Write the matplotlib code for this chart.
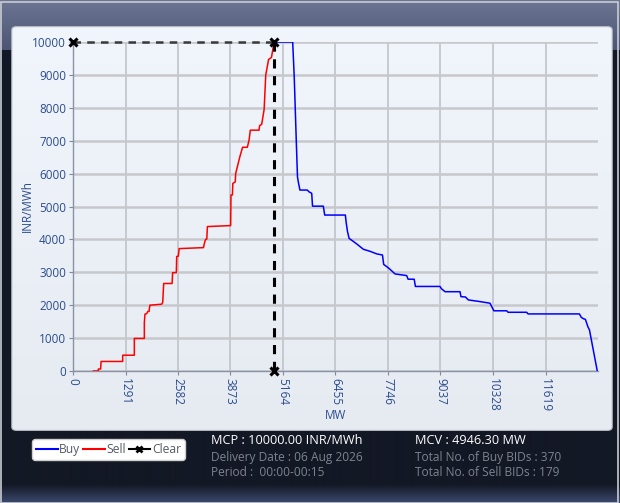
import numpy as np
import matplotlib
matplotlib.use("Agg")
import matplotlib.pyplot as plt
from matplotlib.patches import FancyBboxPatch, Rectangle
from matplotlib.lines import Line2D

# ---- data ----
sell_mw = [500, 623, 623, 680, 690, 1222, 1222, 1508, 1508, 1754, 1754, 1770, 1810, 1840, 1870,
           1890, 2180, 2206, 2230, 2437, 2450, 2541, 2550, 2590, 2610, 3209, 3230, 3260, 3290,
           3305, 3877, 3885, 3920, 3930, 3990, 4000, 4100, 4170, 4287, 4330, 4360, 4574, 4590,
           4640, 4700, 4740, 4810, 4880, 4946.3]
sell_price = [0, 0, 60, 60, 290, 290, 480, 480, 990, 990, 1470, 1730, 1740, 1810, 1810,
              2000, 2030, 2080, 2660, 2660, 2990, 2990, 3480, 3490, 3720, 3750, 3880, 4000, 4010,
              4390, 4420, 5350, 5350, 5700, 5750, 6000, 6500, 6800, 6800, 7020, 7320, 7320, 7460,
              7500, 7950, 9000, 9470, 9530, 10000]

buy_mw = [4946.3, 5402, 5440, 5490, 5520, 5540, 5580, 5760, 5800, 5870, 5890, 6155, 6190, 6697,
          6720, 6750, 6790, 6870, 6990, 7140, 7300, 7468, 7610, 7640, 7770, 7920, 8206, 8240,
          8390, 8420, 9025, 9060, 9150, 9517, 9540, 9650, 9722, 10008, 10254, 10300, 10350,
          10665, 10700, 11157, 11190, 12452, 12500, 12550, 12600, 12660, 12700, 12892]
buy_price = [10000, 10000, 8950, 7020, 5900, 5750, 5500, 5500, 5450, 5400, 5010, 5010, 4740, 4740,
             4490, 4240, 4030, 3960, 3850, 3700, 3640, 3560, 3525, 3240, 3120, 2950, 2900, 2790,
             2790, 2570, 2570, 2500, 2410, 2410, 2260, 2250, 2160, 2110, 2060, 1950, 1830,
             1830, 1785, 1785, 1735, 1735, 1630, 1590, 1570, 1350, 1250, 0]

mcp = 10000.00
mcv = 4946.30
x_ticks = [0, 1291, 2582, 3873, 5164, 6455, 7746, 9037, 10328, 11619]
y_ticks = [0, 1000, 2000, 3000, 4000, 5000, 6000, 7000, 8000, 9000, 10000]
x_max = 12910

info_left = ["MCP : 10000.00 INR/MWh", "Delivery Date : 06 Aug 2026", "Period :  00:00-00:15"]
info_right = ["MCV : 4946.30 MW", "Total No. of Buy BIDs : 370", "Total No. of Sell BIDs : 179"]

# ---- figure ----
W, H = 620, 503
fig = plt.figure(figsize=(W / 100, H / 100), dpi=100)
plt.rcParams['font.family'] = ['Open Sans', 'DejaVu Sans']

# background gradient
bg = fig.add_axes([0, 0, 1, 1], zorder=-10)
bg.set_axis_off()
rows = np.zeros((H, 1, 3))
top_c = np.array([0x6c, 0x75, 0x92]) / 255
hdr_c = np.array([0x4c, 0x56, 0x74]) / 255
dark_c = np.array([0x13, 0x18, 0x25]) / 255
bot_c = np.array([0x3e, 0x4b, 0x70]) / 255
for i in range(H):
    if i < 50:
        t = i / 50
        c = top_c * (1 - t) + hdr_c * t
    elif i < 484:
        c = dark_c
    else:
        t = (i - 484) / (H - 484)
        c = dark_c * (1 - t) + bot_c * t
    rows[i, 0] = c
bg.imshow(rows, aspect='auto', extent=[0, 1, 0, 1], transform=bg.transAxes)
bg.set_xlim(0, 1); bg.set_ylim(0, 1)
fig.patches.append(Rectangle((0.5 / W, 0.5 / H), 1 - 2.5 / W, 1 - 2.5 / H, transform=fig.transFigure,
                             fill=False, edgecolor='#c8ccd4', lw=1.2, zorder=-5))

# panel
px0, py0, px1, py1 = 10, 25, 614, 432
panel_ax = fig.add_axes([px0 / W, 1 - py1 / H, (px1 - px0) / W, (py1 - py0) / H], zorder=-4)
panel_ax.set_axis_off()
grad = np.linspace(0, 1, 200).reshape(-1, 1)
c1 = np.array([0xf1, 0xf5, 0xfc]) / 255
c2 = np.array([0xe6, 0xea, 0xf1]) / 255
img = (c1[None, None, :] * (1 - grad[:, :, None]) + c2[None, None, :] * grad[:, :, None])
panel_patch = FancyBboxPatch((0.003, 0.004), 0.994, 0.992, boxstyle="round,pad=0,rounding_size=0.008",
                             transform=panel_ax.transAxes, facecolor='none', edgecolor='#b8bcc6', lw=0.8)
panel_ax.add_patch(panel_patch)
im = panel_ax.imshow(img, aspect='auto', extent=[0, 1, 0, 1], transform=panel_ax.transAxes)
im.set_clip_path(panel_patch)
panel_ax.set_xlim(0, 1); panel_ax.set_ylim(0, 1)

# main plot
L, R, T, B = 73, 598, 42, 371
ax = fig.add_axes([L / W, 1 - B / H, (R - L) / W, (B - T) / H])
ax.patch.set_alpha(0)
ax.set_xlim(0, x_max)
ax.set_ylim(0, 10000)
ax.set_xticks(x_ticks)
ax.set_yticks(y_ticks)
tick_col = '#2b4d8f'
ax.set_xticklabels([str(v) for v in x_ticks], rotation=270, color=tick_col, fontsize=8.5)
ax.set_yticklabels([str(v) for v in y_ticks], color=tick_col, fontsize=8.5)
ax.tick_params(axis='both', length=3, width=0.8, color='#7f8aa0', pad=2)
ax.grid(True, axis='y', color='#c6c8cc', lw=1.8)
ax.grid(True, axis='x', color='#bcbfc4', lw=1.1)
ax.set_axisbelow(True)
for s in ['top', 'right']:
    ax.spines[s].set_visible(False)
for s in ['left', 'bottom']:
    ax.spines[s].set_color('#8a93a6')
    ax.spines[s].set_linewidth(1.0)

ax.plot(buy_mw, buy_price, color='#0000ff', lw=1.1, zorder=3)
ax.plot(sell_mw, sell_price, color='#ff0000', lw=1.1, zorder=3)
ax.plot([0, mcv], [mcp, mcp], color='#3a3a3a', lw=1.8, ls=(0, (3, 2.5)), clip_on=False, zorder=5)
ax.plot([mcv, mcv], [mcp, 0], color='black', lw=2.2, ls=(0, (3, 2.5)), clip_on=False, zorder=5)
ax.plot([0, mcv, mcv], [mcp, mcp, 0], ls='none', color='black',
        marker='x', ms=6, mew=2.2, clip_on=False, zorder=6)

ax.set_xlabel('MW', color=tick_col, fontsize=8.5, labelpad=-2)
ax.set_ylabel('INR/MWh', color=tick_col, fontsize=8.5, labelpad=-1)

# legend
handles = [Line2D([], [], color='#0000ff', lw=1.5),
           Line2D([], [], color='#ff0000', lw=1.5),
           Line2D([], [], color='black', lw=1.5, marker='x', ms=5, mew=2)]
leg = fig.legend(handles, ['Buy', 'Sell', 'Clear'], loc='center', bbox_to_anchor=(108.5 / W, 1 - 449.5 / H),
                 ncol=3, frameon=True, fontsize=8.7, handlelength=1.8, handletextpad=0.15,
                 columnspacing=0.2, borderpad=0.3, borderaxespad=0, fancybox=True)
leg.get_frame().set_facecolor('white')
leg.get_frame().set_edgecolor('#d0d0d0')
leg.get_frame().set_alpha(1)
for t in leg.get_texts():
    t.set_color('#555a66')

# info texts
ys = [441, 457, 472]
for i, (a, b) in enumerate(zip(info_left, info_right)):
    col = 'white' if i == 0 else '#7d838f'
    fs = 9.2 if i == 0 else 8.6
    fig.text(211 / W, 1 - ys[i] / H, a, color=col, fontsize=fs, va='center', ha='left')
    fig.text(415 / W, 1 - ys[i] / H, b, color=col, fontsize=fs, va='center', ha='left')

fig.savefig('out.png', dpi=100)
